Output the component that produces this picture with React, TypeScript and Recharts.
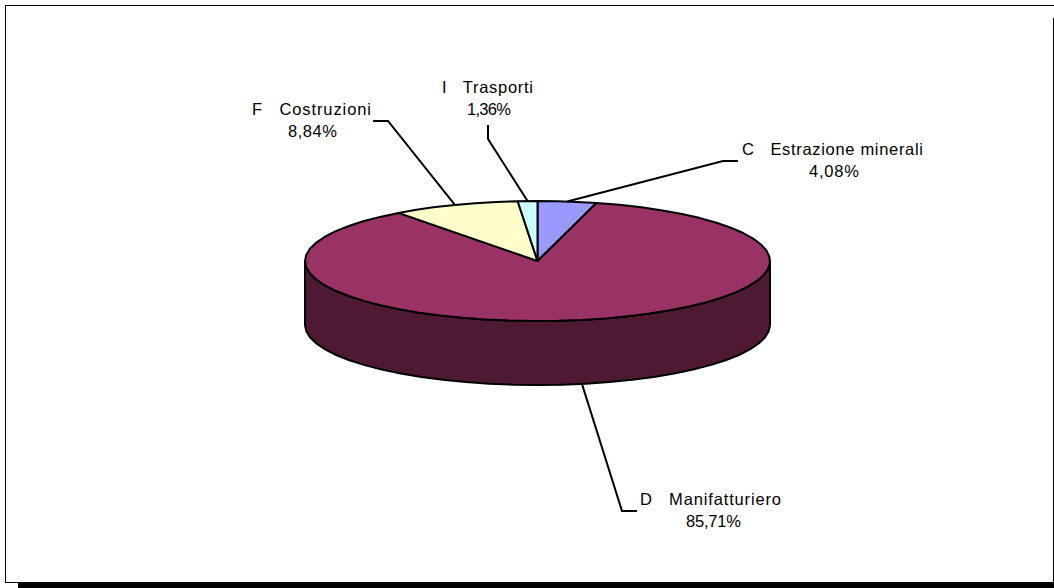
import { Pie, PieChart } from "recharts"

const codes = ["C", "D", "F", "I"]
const sectors = ["Estrazione minerali", "Manifatturiero", "Costruzioni", "Trasporti"]
const shares = [4.08, 85.71, 8.84, 1.36]
const colors = ["#9999FF", "#993366", "#FFFFCC", "#CCFFFF"]

const data = sectors.map((name, i) => ({ name, code: codes[i], value: shares[i], fill: colors[i] }))

const WALL_COLOR = "#4D1933"
const WIDTH = 1054
const HEIGHT = 588
const CX = 537.5
const CY = 261
const RX = 232.5
const RY = 60
const DEPTH = 64

// leader elbows and text boxes, per slice
const labelLayout = [
  { line: [[723, 161], [738, 161]], x: 742, w: 181, y: 155, px: 809, pw: 50, drop: 0 },
  { line: [[622, 511], [637, 511]], x: 640, w: 141, y: 505, px: 686, pw: 55, drop: DEPTH },
  { line: [[388, 121], [373, 121]], x: 252, w: 119, y: 115, px: 288, pw: 49, drop: 0 },
  { line: [[488, 139], [488, 125]], x: 442, w: 91, y: 93, px: 467, pw: 44, drop: 0 },
]

const rad = (deg: number) => (deg * Math.PI) / 180
const px = (deg: number) => CX + RX * Math.cos(rad(deg))
const py = (deg: number) => CY - RY * Math.sin(rad(deg))

function arc(from: number, to: number, lift = 0) {
  const pts: string[] = []
  const dir = to > from ? 1 : -1
  const steps = Math.max(1, Math.ceil(Math.abs(to - from) / 6))
  for (let i = 0; i <= steps; i++) {
    const a = from + (dir * (Math.abs(to - from) * i)) / steps
    pts.push(`${px(a).toFixed(1)},${(py(a) + lift).toFixed(1)}`)
  }
  return pts
}

function TiltedSlice(props: any) {
  const { startAngle, endAngle, fill } = props
  const hi = Math.min(startAngle, 0)
  const lo = Math.max(endAngle, -180)
  const top = `M${CX},${CY} L${arc(startAngle, endAngle).join(" L")} Z`
  return (
    <g>
      {hi > lo && (
        <path
          d={`M${arc(hi, lo).join(" L")} L${arc(lo, hi, DEPTH).join(" L")} Z`}
          fill={WALL_COLOR}
          stroke="#000"
          strokeWidth={2}
          strokeLinejoin="round"
        />
      )}
      <path d={top} fill={fill} stroke="#000" strokeWidth={2} strokeLinejoin="round" />
    </g>
  )
}

function SliceLabel(props: any) {
  const { index, midAngle, code, name, value } = props
  const box = labelLayout[index]
  const start = [px(midAngle), py(midAngle) + box.drop]
  const points = [start, ...box.line].map((p) => p.join(",")).join(" ")
  const textProps = { fontFamily: "Liberation Sans, Arial, sans-serif", fontSize: 16.5, fill: "#000", stroke: "none" }
  return (
    <g>
      <polyline points={points} fill="none" stroke="#000" strokeWidth={2} />
      <text
        {...textProps}
        x={box.x}
        y={box.y}
        textLength={box.w}
        lengthAdjust="spacing"
        style={{ whiteSpace: "pre" }}
      >
        {`${code}   ${name}`}
      </text>
      <text {...textProps} x={box.px} y={box.y + 22} textLength={box.pw} lengthAdjust="spacing">
        {`${value.toFixed(2).replace(".", ",")}%`}
      </text>
    </g>
  )
}

const line = (style: React.CSSProperties) => <div style={{ position: "absolute", background: "#000", ...style }} />

export default function App() {
  return (
    <div style={{ position: "fixed", left: 0, top: 0, width: WIDTH, height: HEIGHT, background: "#fff", overflow: "hidden" }}>
      <PieChart width={WIDTH} height={HEIGHT} margin={{ top: 0, right: 0, bottom: 0, left: 0 }}>
        <Pie
          data={data}
          dataKey="value"
          nameKey="name"
          cx={CX}
          cy={CY}
          outerRadius={RX}
          startAngle={90}
          endAngle={-270}
          paddingAngle={0}
          shape={TiltedSlice}
          label={SliceLabel}
          labelLine={false}
          isAnimationActive={false}
        />
      </PieChart>
      {line({ left: 5, top: 5, width: 1049, height: 1 })}
      {line({ left: 5, top: 5, width: 1, height: 578 })}
      {line({ left: 1053, top: 18, width: 1, height: 565 })}
      {line({ left: 5, top: 582, width: 13, height: 1 })}
      {line({ left: 18, top: 582, width: 1036, height: 6 })}
    </div>
  )
}
